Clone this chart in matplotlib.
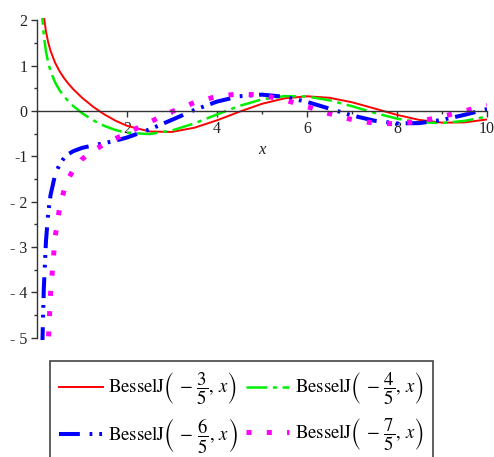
import matplotlib
matplotlib.use("Agg")
import matplotlib.pyplot as plt

plt.rcParams['font.family'] = ['Liberation Serif', 'DejaVu Serif']
plt.rcParams['mathtext.fontset'] = 'stix'
plt.rcParams['lines.scale_dashes'] = False

# values
x = [0.1, 0.12, 0.15, 0.2, 0.25, 0.3, 0.4, 0.5, 0.6, 0.7, 0.8, 1.0, 1.25, 1.5, 1.75, 2.0,
     2.5, 3.0, 3.5, 4.0, 4.5, 5.0, 5.5, 6.0, 6.5, 7.0, 7.5, 8.0, 8.5, 9.0, 9.5, 10.0]
j_35 = [2.70, 2.42, 2.10, 1.750, 1.509, 1.329, 1.068, 0.878, 0.726, 0.598, 0.486, 0.293,
        0.091, -0.078, -0.217, -0.326, -0.453, -0.462, -0.369, -0.206, -0.016, 0.158,
        0.278, 0.324, 0.291, 0.192, 0.055, -0.086, -0.198, -0.257, -0.252, -0.187]
j_45 = [2.36, 2.03, 1.68, 1.306, 1.060, 0.883, 0.634, 0.459, 0.323, 0.211, 0.114, -0.047,
        -0.207, -0.331, -0.422, -0.481, -0.509, -0.430, -0.273, -0.077, 0.112, 0.256,
        0.328, 0.319, 0.236, 0.105, -0.042, -0.169, -0.249, -0.266, -0.219, -0.122]
j_65 = [-6.33, -5.12, -3.95, -2.858, -2.244, -1.859, -1.416, -1.179, -1.038, -0.949, -0.889,
        -0.814, -0.758, -0.709, -0.653, -0.585, -0.408, -0.195, 0.023, 0.207, 0.325, 0.360,
        0.313, 0.200, 0.051, -0.098, -0.215, -0.275, -0.267, -0.197, -0.085, 0.041]
j_75 = [-17.9, -13.9, -10.2, -6.91, -5.13, -4.036, -2.804, -2.148, -1.751, -1.490, -1.306,
        -1.064, -0.873, -0.731, -0.607, -0.487, -0.245, -0.012, 0.187, 0.323, 0.378, 0.347,
        0.244, 0.097, -0.060, -0.191, -0.271, -0.283, -0.229, -0.125, 0.002, 0.122]

labels = [r'$\mathrm{BesselJ}\left(\,-\,\dfrac{3}{5},\,x\right)$',
          r'$\mathrm{BesselJ}\left(\,-\,\dfrac{4}{5},\,x\right)$',
          r'$\mathrm{BesselJ}\left(\,-\,\dfrac{6}{5},\,x\right)$',
          r'$\mathrm{BesselJ}\left(\,-\,\dfrac{7}{5},\,x\right)$']
xticks = [2, 4, 6, 8, 10]
yticks = [-5, -4, -3, -2, -1, 0, 1, 2]
ytick_labels = ['- 5', '- 4', '- 3', '- 2', '-1', '0', '1', '2']

fig = plt.figure(figsize=(4.94, 4.57), dpi=100)
ax = fig.add_axes([37/494, 117/457, 450/494, 322/457])
ax.patch.set_visible(False)

l1, = ax.plot(x, j_35, color='#ff0000', lw=1.4)
l2, = ax.plot(x, j_45, color='#00ee00', lw=1.8, dashes=[15, 4, 3, 4])
l3, = ax.plot(x, j_65, color='#0000ff', lw=2.9, dashes=[15, 7, 2, 5, 2, 5])
l4, = ax.plot(x, j_75, color='#ff00ff', lw=3.6, dashes=[3.6, 11], dash_capstyle='butt')

ax.set_xlim(0, 10)
ax.set_ylim(-5.05, 2.05)
ax.spines['top'].set_visible(False)
ax.spines['right'].set_visible(False)
ax.spines['bottom'].set_position(('data', 0))
for s in ('left', 'bottom'):
    ax.spines[s].set_color('#333333')
    ax.spines[s].set_linewidth(1.0)
ax.spines['left'].set_bounds(-5, 2)
ax.spines['bottom'].set_bounds(0, 10)

ax.set_xticks(xticks)
ax.set_xticklabels([str(v) for v in xticks])
ax.set_xticks([1, 3, 5, 7, 9], minor=True)
ax.set_yticks(yticks)
ax.set_yticklabels(ytick_labels)
ax.set_yticks([-4.5, -3.5, -2.5, -1.5, -0.5, 0.5, 1.5], minor=True)
ax.tick_params(which='major', length=4, width=1, color='#333333', labelsize=11.5,
               labelcolor='#222222', pad=3)
ax.tick_params(which='minor', length=2.5, width=1, color='#333333')
ax.text(5, -0.85, 'x', style='italic', fontsize=12, ha='center', va='center',
        color='#222222')

# row-wise order: matplotlib fills legend columns first
leg = fig.legend([l1, l3, l2, l4], [labels[0], labels[2], labels[1], labels[3]],
                 ncol=2, loc='upper left',
                 bbox_to_anchor=(50/494, 1 - 361/457), borderaxespad=0,
                 fontsize=13.5, handlelength=2.3, handletextpad=0.3,
                 columnspacing=0.45, borderpad=0.5, labelspacing=0.45,
                 fancybox=False, framealpha=1)
leg.get_frame().set_edgecolor('#444444')
leg.get_frame().set_linewidth(1.2)

fig.savefig('out.png', dpi=100)
